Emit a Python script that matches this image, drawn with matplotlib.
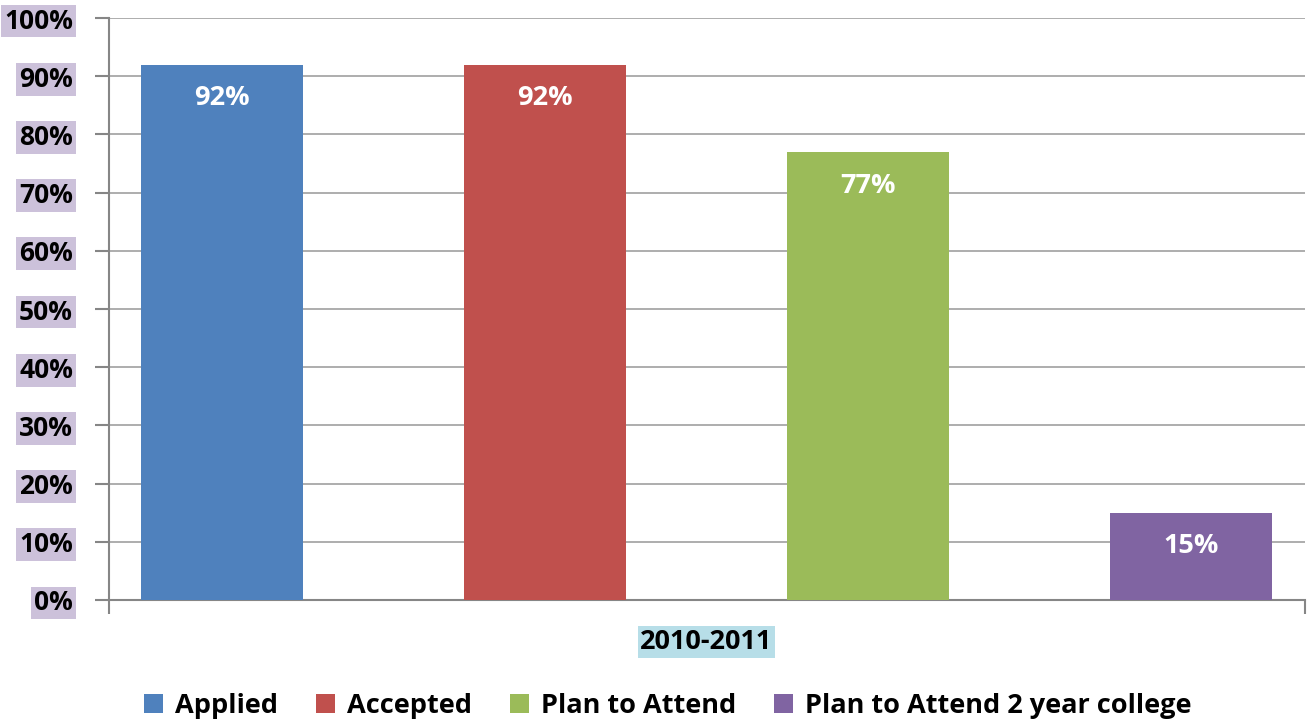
import numpy as np
import matplotlib.pyplot as plt
from matplotlib.ticker import PercentFormatter

# data
series = ['Applied', 'Accepted', 'Plan to Attend', 'Plan to Attend 2 year college']
values = [92, 92, 77, 15]
colors = ['#4f81bd', '#c0504d', '#9bbb59', '#8064a2']
category = '2010-2011'
yticks = np.arange(0, 101, 10)

plt.rcParams['font.family'] = ['Open Sans', 'DejaVu Sans']
plt.rcParams['font.weight'] = 'bold'
FS = 19.5

fig = plt.figure(figsize=(13.07, 7.22), dpi=100)
ax = fig.add_axes([0.0834, 0.169, 0.9151, 0.806])

x = np.arange(len(values))
bars = ax.bar(x, values, width=0.5, color=colors, label=series, zorder=3)
for b, v in zip(bars, values):
    ax.text(b.get_x() + b.get_width() / 2, v - 5.8, '%d%%' % v,
            ha='center', va='center', color='white', fontsize=FS, fontweight='bold', zorder=4)

ax.set_xlim(-0.35, 3.353)
ax.set_ylim(0, 100)
ax.set_yticks(yticks)
ax.yaxis.set_major_formatter(PercentFormatter(decimals=0))
ax.grid(axis='y', color='#a0a0a0', linewidth=1.2, zorder=0)
for side in ['top', 'right']:
    ax.spines[side].set_visible(False)
for side in ['left', 'bottom']:
    ax.spines[side].set_color('#868686')
    ax.spines[side].set_linewidth(1.5)

ax.tick_params(axis='y', length=10, width=1.5, color='#868686', pad=16, labelsize=19)
for lab in ax.get_yticklabels():
    lab.set_fontweight('bold')
    lab.set_bbox(dict(facecolor='#ccc1da', edgecolor='none', pad=2))

ax.set_xticks([1.5])
ax.set_xticklabels([category])
ax.set_xticks([-0.35, 3.353], minor=True)
ax.tick_params(axis='x', which='major', length=0, pad=21, labelsize=FS)
ax.tick_params(axis='x', which='minor', length=10, width=1.5, color='#868686')
for lab in ax.get_xticklabels():
    lab.set_fontweight('bold')
    lab.set_bbox(dict(facecolor='#b7dee8', edgecolor='none', pad=2))

fig.legend(handles=bars, labels=series, loc='lower center', ncol=4,
           bbox_to_anchor=(0.511, -0.03), frameon=False,
           handlelength=0.7, handleheight=0.7, handletextpad=0.45, columnspacing=1.4,
           prop={'weight': 'bold', 'size': FS})

fig.savefig('out.png', dpi=100)
